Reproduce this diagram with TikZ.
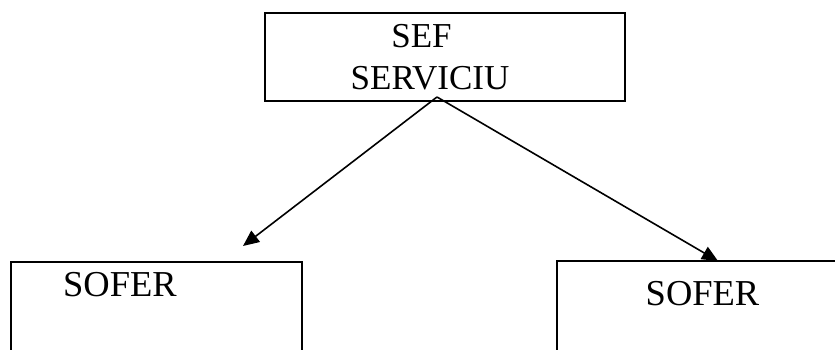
\documentclass[tikz,border=0pt]{standalone}
\usepackage{fontspec}
\setmainfont{Liberation Serif}
\usetikzlibrary{arrows.meta,positioning}
\begin{document}
\begin{tikzpicture}[x=1pt,y=-1pt,
  boxline/.style={draw,line width=2.2pt,inner sep=0pt},
  txt/.style={anchor=base,inner sep=0pt,font=\fontsize{35}{42}\selectfont},
  conn/.style={line width=1.6pt,-{Triangle[length=16pt,width=14pt]}}]
\useasboundingbox (0,0) rectangle (835,350);
%% casete
\node [boxline,minimum width=360pt,minimum height=88pt] (sef) at (445,57) {};
\node [boxline,minimum width=291pt,minimum height=130pt] (sofer1) at (156.5,327) {};
\node [boxline,minimum width=300pt,minimum height=130pt] (sofer2) at (707,326) {};
%% texte
\node [txt] (seft1) at (421.5,48) {SEF};
\node [txt] (seft2) at (430,90) {SERVICIU};
\node [txt,font=\fontsize{36.5}{44}\selectfont] (sofert1) at (120,296) {SOFER};
\node [txt,font=\fontsize{36.5}{44}\selectfont] (sofert2) at (702.5,305) {SOFER};
%% sageti
\coordinate (split) at (437,97);
\coordinate (tip1) at (243,246);
\coordinate (tip2) at (718,261);
\draw[conn] (split) -- (tip1);
\draw[conn] (split) -- (tip2);
\end{tikzpicture}
\end{document}
